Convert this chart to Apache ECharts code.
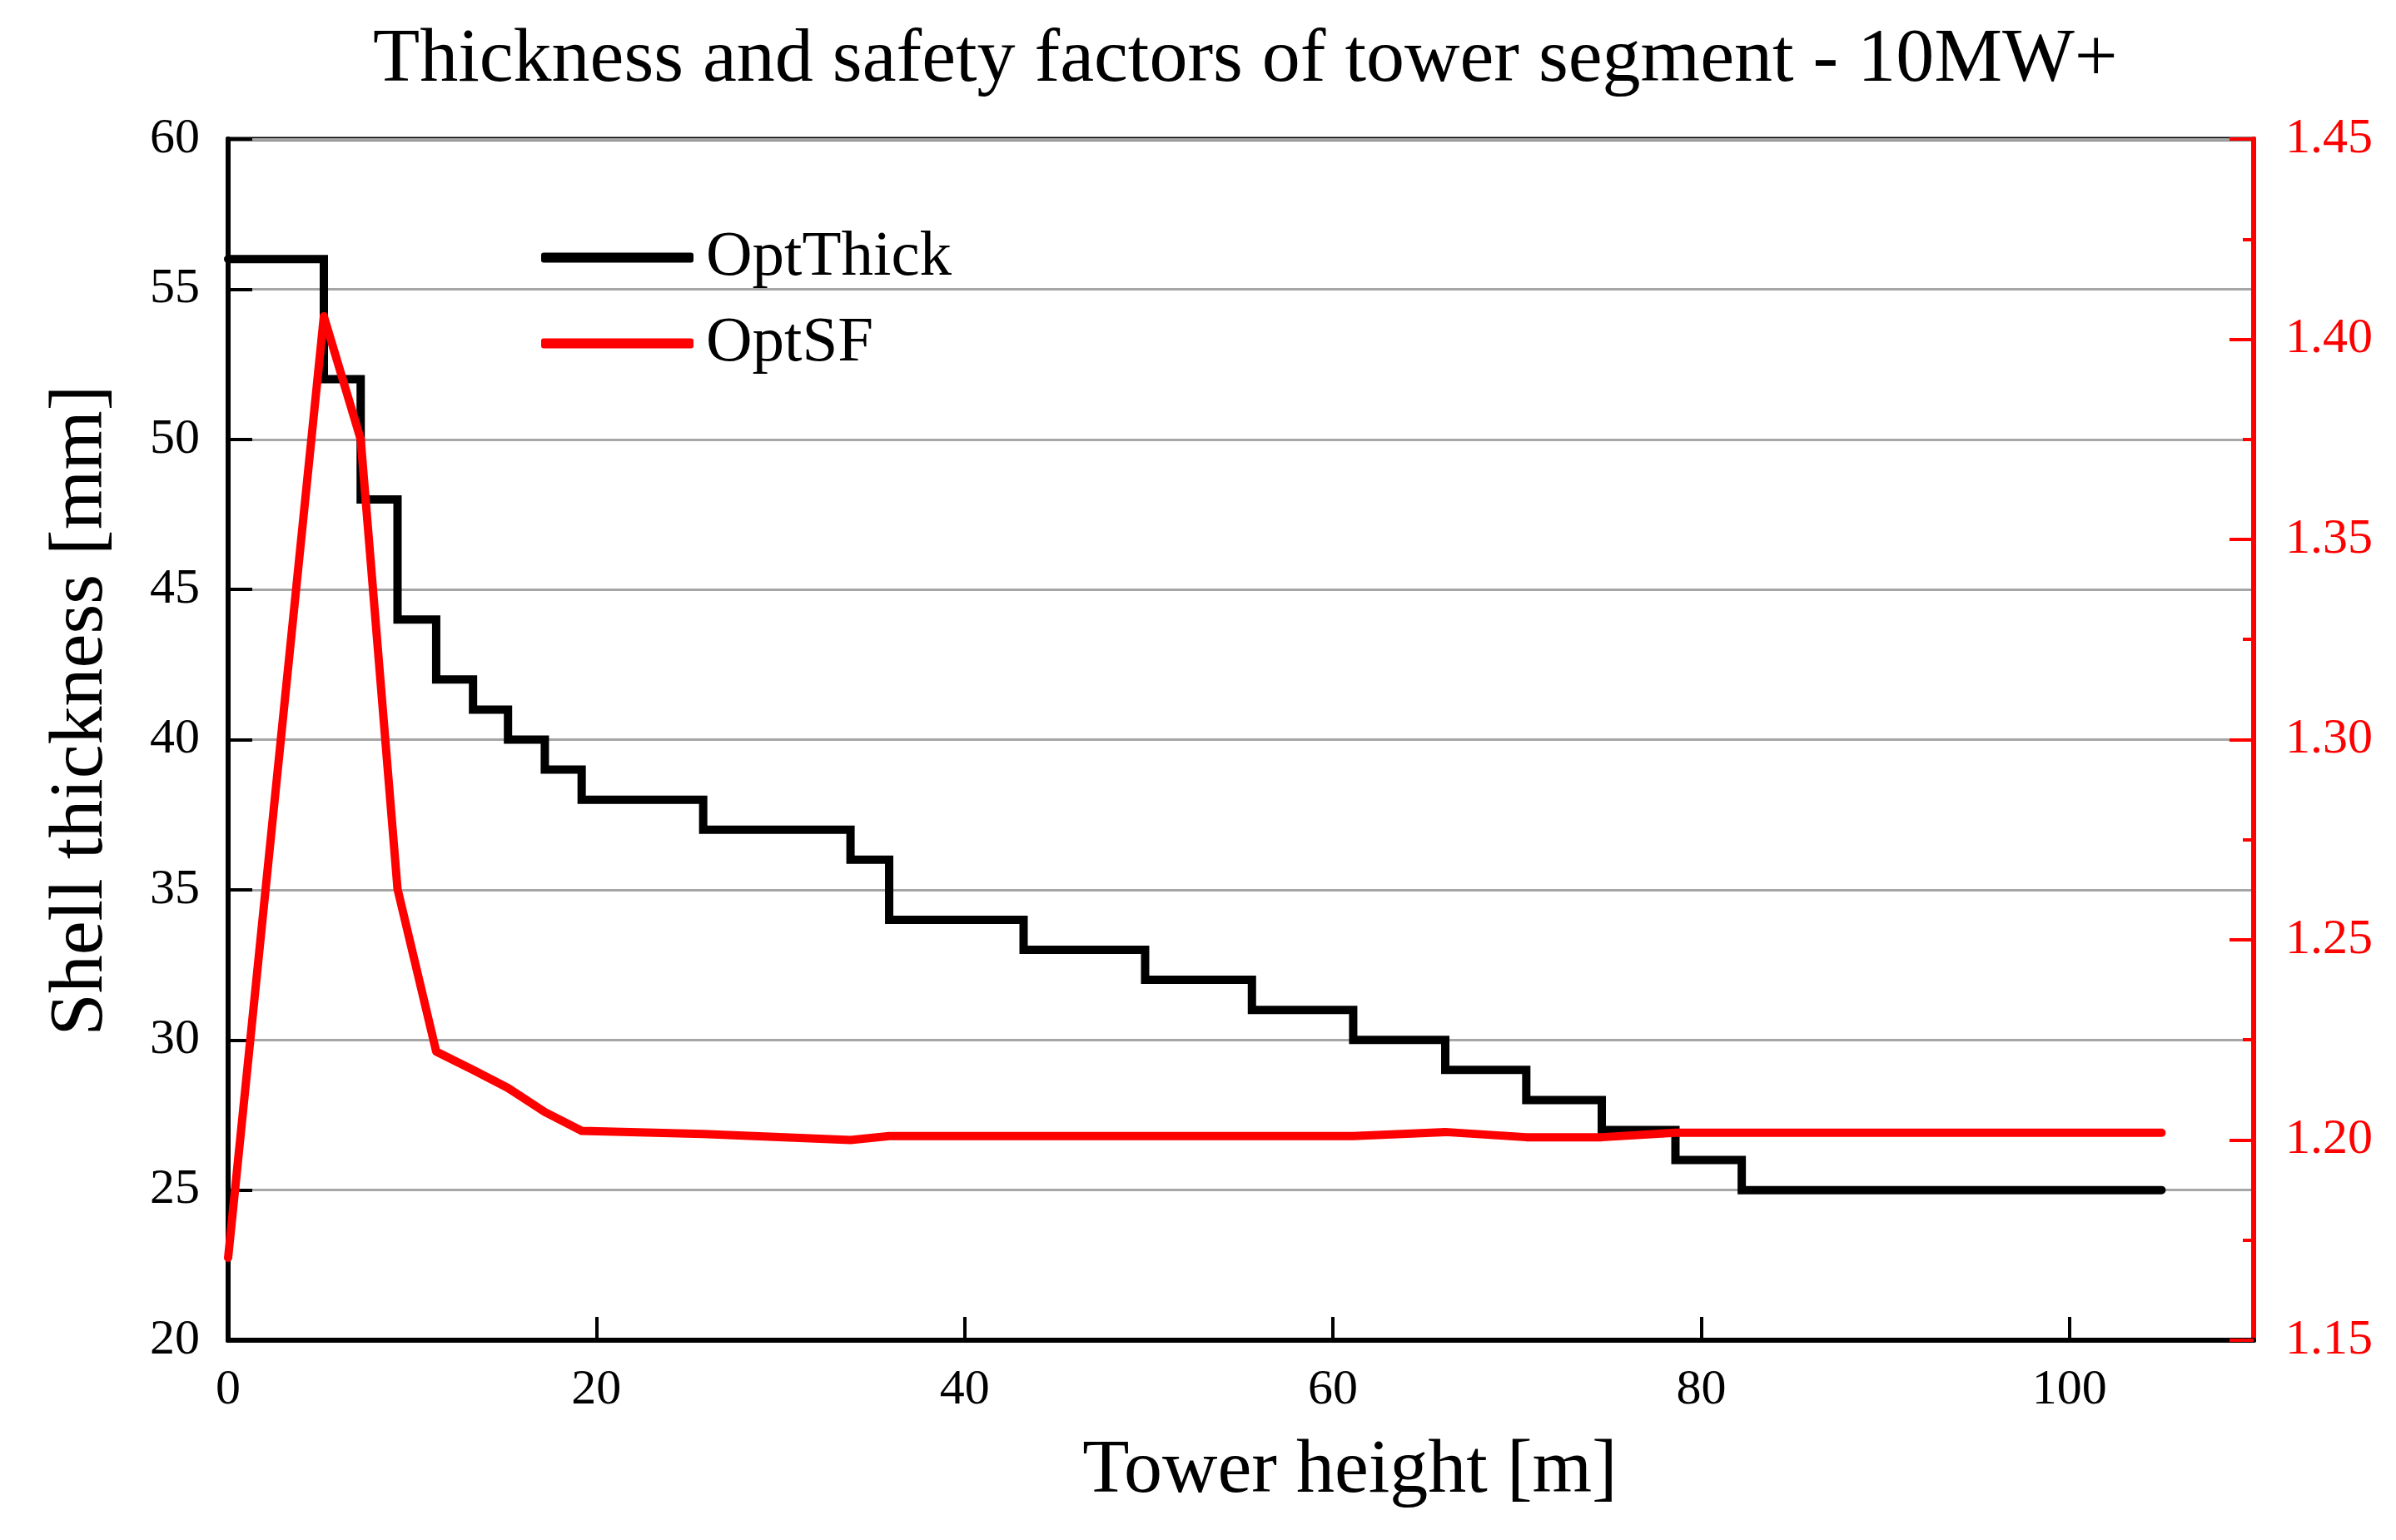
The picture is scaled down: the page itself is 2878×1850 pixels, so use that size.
<!DOCTYPE html>
<html>
<head>
<meta charset="utf-8">
<script src="https://cdn.jsdelivr.net/npm/echarts@6/dist/echarts.min.js"></script>
<style>
html,body{margin:0;padding:0;background:#fff;}
#chart{width:2878px;height:1850px;}
</style>
</head>
<body>
<div id="chart"></div>
<script>
// Tower height [m] at segment boundaries
const heights = [0, 5.2, 7.2, 9.2, 11.3, 13.3, 15.2, 17.2, 19.2, 25.8, 33.8, 35.9, 43.2, 49.8, 55.6, 61.1, 66.1, 70.5, 74.6, 78.6, 82.2, 105];
// Shell thickness [mm] (held from this height up to the next)
const thickness = [56, 52, 48, 44, 42, 41, 40, 39, 38, 37, 36, 34, 33, 32, 31, 30, 29, 28, 27, 26, 25, 25];
// Safety factor at each height
const safety = [1.1706, 1.4057, 1.375, 1.2627, 1.2221, 1.2175, 1.213, 1.207, 1.2023, 1.2015, 1.2000, 1.2010, 1.2010, 1.2010, 1.2010, 1.2010, 1.2020, 1.2007, 1.2007, 1.2018, 1.2018, 1.2018];
const xTicks = [0, 20, 40, 60, 80, 100];
const titleText = 'Thickness and safety factors of tower segment - 10MW+';

const FONT = 'Liberation Serif';
const thickData = heights.map((h, i) => [h, thickness[i]]);
const sfData = heights.map((h, i) => [h, safety[i]]);

const chart = echarts.init(document.getElementById('chart'));
chart.setOption({
  animation: false,
  backgroundColor: '#fff',
  title: {
    text: titleText,
    left: 448,
    top: 27,
    padding: 0,
    textStyle: { fontFamily: FONT, fontSize: 92, fontWeight: 'normal', color: '#000' }
  },
  grid: {
    left: 274, right: 171, top: 167, bottom: 240,
    show: true, borderColor: '#000', borderWidth: 5, backgroundColor: 'transparent'
  },
  legend: {
    orient: 'vertical',
    left: 645, top: 266,
    itemWidth: 183, itemHeight: 12, itemGap: 26,
    icon: 'roundRect',
    textStyle: { fontFamily: FONT, fontSize: 77, color: '#000', padding: [0, 0, 0, 10] },
    data: ['OptThick', 'OptSF']
  },
  xAxis: {
    type: 'value',
    min: 0, max: 110,
    name: 'Tower height [m]',
    nameLocation: 'middle',
    nameGap: 112,
    nameTextStyle: { fontFamily: FONT, fontSize: 92, color: '#000', padding: [0, 0, 0, 262] },
    axisLine: { show: true, lineStyle: { color: '#000', width: 6 } },
    axisTick: { show: true, inside: true, length: 28, customValues: xTicks, lineStyle: { color: '#000', width: 4 } },
    axisLabel: { fontFamily: FONT, fontSize: 60, color: '#000', margin: 30, customValues: xTicks },
    splitLine: { show: false }
  },
  yAxis: [
    {
      type: 'value',
      min: 20, max: 60, interval: 5,
      name: 'Shell thickness [mm]',
      nameLocation: 'middle',
      nameGap: 130,
      nameRotate: 90,
      nameTextStyle: { fontFamily: FONT, fontSize: 92, color: '#000', padding: [0, 0, 0, 70] },
      axisLine: { show: true, lineStyle: { color: '#000', width: 6 } },
      axisTick: { show: true, inside: true, length: 29, lineStyle: { color: '#000', width: 4 } },
      axisLabel: { fontFamily: FONT, fontSize: 60, color: '#000', margin: 34 },
      splitLine: { show: true, lineStyle: { color: '#a6a6a6', width: 3 } }
    },
    {
      type: 'value',
      position: 'right',
      min: 1.15, max: 1.45, interval: 0.05,
      axisLine: { show: true, lineStyle: { color: '#ff0000', width: 6 } },
      axisTick: { show: true, inside: true, length: 29, lineStyle: { color: '#ff0000', width: 4 } },
      minorTick: { show: true, splitNumber: 2, length: 13, lineStyle: { color: '#ff0000', width: 4 } },
      axisLabel: { fontFamily: FONT, fontSize: 60, color: '#ff0000', margin: 38, formatter: v => v.toFixed(2) },
      splitLine: { show: false }
    }
  ],
  series: [
    {
      name: 'OptThick',
      type: 'line',
      yAxisIndex: 0,
      step: 'end',
      data: thickData,
      symbol: 'none',
      itemStyle: { color: '#000' },
      lineStyle: { color: '#000', width: 10, cap: 'round', join: 'miter' },
      z: 3
    },
    {
      name: 'OptSF',
      type: 'line',
      yAxisIndex: 1,
      data: sfData,
      symbol: 'none',
      itemStyle: { color: '#ff0000' },
      lineStyle: { color: '#ff0000', width: 10, cap: 'round', join: 'round' },
      z: 4
    }
  ]
});
</script>
</body>
</html>
